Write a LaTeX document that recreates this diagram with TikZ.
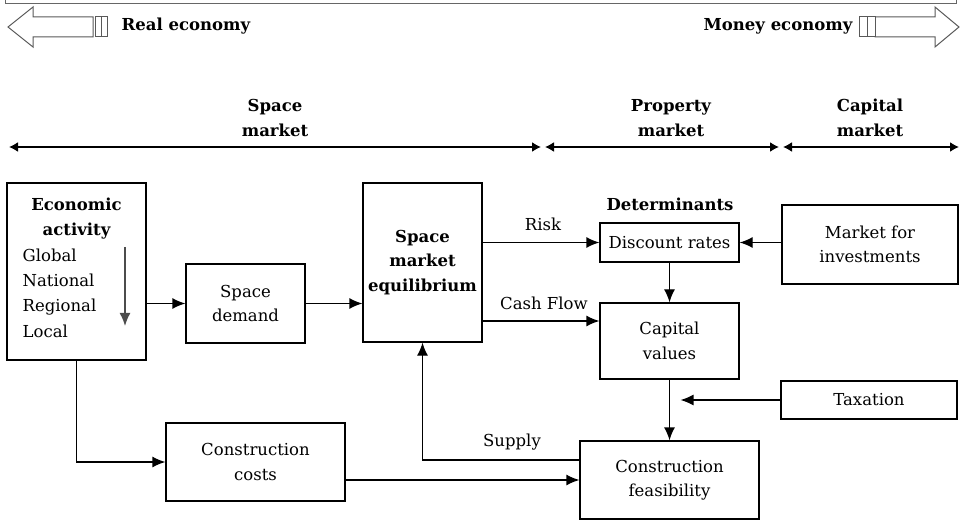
\documentclass[tikz,border=0pt]{standalone}
\usepackage{fontspec}
\setmainfont{DejaVu Serif}
\usetikzlibrary{arrows.meta}

\begin{document}
\begin{tikzpicture}[x=1pt, y=-1pt, line width=1.3pt,
  every node/.style={font=\fontsize{16.5}{24.5}\selectfont, align=center, inner sep=0pt},
  bold/.style={font=\fontsize{16.5}{24.5}\selectfont\bfseries},
  box/.style={draw, line width=1.3pt},
  conn/.style={-{Latex[length=13pt,width=11pt]}},
  span/.style={{Latex[length=9pt,width=10pt]}-{Latex[length=9pt,width=10pt]}, line width=1.6pt},
  bigarrow/.style={draw=black!65, line width=1pt, fill=white}]
  \useasboundingbox (0,0) rectangle (969,521);

  % frame edge at the top
  \draw[black!60, line width=1pt] (5,0) -- (5,4) -- (956,4) -- (956,0);

  % real economy / money economy arrows
  \draw[bigarrow] (93,17) -- (33,17) -- (33,7) -- (8,27) -- (33,47) -- (33,37) -- (93,37) -- cycle;
  \draw[bigarrow] (95,17) rectangle (101,37);
  \draw[bigarrow] (101,17) rectangle (107,37);
  \node[bold, anchor=west] (real) at (121,26) {Real economy};
  \draw[bigarrow] (875,17) -- (935,17) -- (935,7) -- (959,27) -- (935,47) -- (935,37) -- (875,37) -- cycle;
  \draw[bigarrow] (859,17) rectangle (867,37);
  \draw[bigarrow] (867,17) rectangle (875,37);
  \node[bold, anchor=east] (money) at (853,26) {Money economy};

  % the three markets
  \coordinate (m0) at (9,147);
  \coordinate (m1) at (541,147);
  \coordinate (m2) at (545,147);
  \coordinate (m3) at (779,147);
  \coordinate (m4) at (783,147);
  \coordinate (m5) at (959,147);
  \draw[span] (m0) -- (m1);
  \draw[span] (m2) -- (m3);
  \draw[span] (m4) -- (m5);
  \node[bold] (spacemkt) at (275,118) {Space\\market};
  \node[bold] (propmkt) at (671,118) {Property\\market};
  \node[bold] (capmkt) at (870,118) {Capital\\market};

  % economic activity
  \node[box, minimum width=139pt, minimum height=177pt] (econ) at (76.5,271.5) {};
  \node[bold] (econtitle) at (76.5,218.5) {Economic\\activity};
  \node[anchor=west, align=left, font=\fontsize{16.5}{25.3}\selectfont] (levels) at (22,293) {Global\\National\\Regional\\Local};
  \coordinate (lvtop) at (125,247);
  \coordinate (lvbot) at (125,326);
  \draw[conn, black!70, line width=1.6pt] (lvtop) -- (lvbot);

  % space market
  \node[box, minimum width=119pt, minimum height=79pt] (sdem) at (245.5,303.5) {Space\\demand};
  \node[box, bold, minimum width=119pt, minimum height=159pt] (sme) at (422.5,262.5) {Space\\market\\equilibrium};
  \node[box, minimum width=179pt, minimum height=78pt] (ccost) at (255.5,462) {Construction\\costs};

  % property and capital market
  \node[bold] (determ) at (670,204) {Determinants};
  \node[box, minimum width=139pt, minimum height=39pt] (disc) at (669.5,242.5) {Discount rates};
  \node[box, minimum width=139pt, minimum height=76pt] (capv) at (669.5,341) {Capital\\values};
  \node[box, minimum width=179pt, minimum height=78pt] (cfeas) at (669.5,480) {Construction\\feasibility};
  \node[box, minimum width=176pt, minimum height=79pt] (mkt) at (870,244.5) {Market for\\investments};
  \node[box, minimum width=176pt, minimum height=38pt] (tax) at (869,400) {Taxation};

  % connectors
  \draw[conn] (econ.east |- sdem.west) -- (sdem.west);
  \draw[conn] (sdem.east) -- (sme.west |- sdem.east);
  \draw[conn] (sme.east |- disc.west) -- (disc.west);
  \coordinate (cfin) at ([yshift=20pt]capv.west);
  \draw[conn] (sme.east |- cfin) -- (cfin);
  \draw[conn] (mkt.west |- disc.east) -- (disc.east);
  \draw[conn] (disc.south) -- (capv.north);
  \draw[conn] (capv.south) -- (cfeas.north);
  \coordinate (taxin) at ([xshift=11pt]capv.south |- tax.west);
  \draw[conn] (tax.west) -- (taxin);
  \draw[conn] (econ.south) |- (ccost.west);
  \draw[conn] (ccost.east |- cfeas.west) -- (cfeas.west);
  \draw[conn] ([yshift=20pt]cfeas.west) -| (sme.south);

  % connector labels
  \node (risk) at (543,224) {Risk};
  \node (cash) at (544,303) {Cash Flow};
  \node (supply) at (512,442) {Supply};
\end{tikzpicture}
\end{document}
